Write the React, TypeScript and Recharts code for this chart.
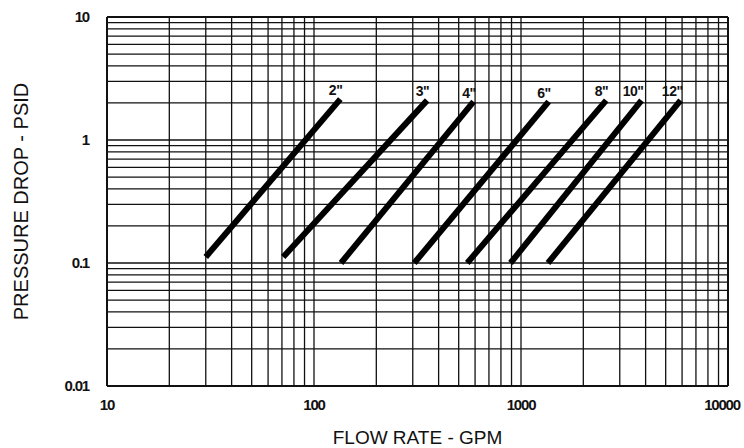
import React from 'react';
import { LineChart, Line, XAxis, YAxis, CartesianGrid, ReferenceLine } from 'recharts';

// pipe sizes, each line runs from (flowLow, dropLow) to (flowHigh, dropHigh)
const sizes = ['2"', '3"', '4"', '6"', '8"', '10"', '12"'];
const flowLow = [30, 71, 135, 305, 550, 890, 1350];
const flowHigh = [134, 352, 590, 1360, 2580, 3820, 5900];
const dropLow = [0.112, 0.112, 0.1, 0.1, 0.1, 0.1, 0.1];
const dropHigh = [2.15, 2.1, 2.05, 2.05, 2.1, 2.1, 2.1];

const xDecades = [10, 100, 1000, 10000];
const yDecades = [0.01, 0.1, 1, 10];
const mantissas = [1, 2, 3, 4, 5, 6, 7, 8, 9];

const xTicks = [...xDecades.slice(0, -1).flatMap((d) => mantissas.map((m) => m * d)), 10000];
const yTicks = [...yDecades.slice(0, -1).flatMap((d) => mantissas.map((m) => m * d)), 10];

const series = sizes.map((name, i) => ({
  name,
  data: [
    { flow: flowLow[i], drop: dropLow[i] },
    { flow: flowHigh[i], drop: dropHigh[i] },
  ],
}));

const font = '"Liberation Sans", Arial, sans-serif';
const tickStyle = { fontSize: 15, fontWeight: 700, fill: '#111', fontFamily: font, letterSpacing: -1.2 };

const XTick = (props: any) => {
  const { x, y, payload } = props;
  const v = payload.value;
  if (!xDecades.includes(v)) return null;
  // last label sits against the page edge
  const dx = v === 10000 ? -6 : 0;
  return (
    <text x={x + dx} y={y} dy={11} textAnchor="middle" {...tickStyle}>
      {String(v)}
    </text>
  );
};

const makeTag = (name: string) => (props: any) => {
  const { x, y, index } = props;
  if (index !== 1) return null;
  return (
    <text
      x={x + 2}
      y={y - 4}
      textAnchor="end"
      fontSize={14}
      fontWeight={700}
      fontFamily={font}
      fill="#111"
      letterSpacing={-0.5}
    >
      {name}
    </text>
  );
};

export default function App() {
  return (
    <div style={{ position: 'absolute', left: 0, top: 0, width: 744, height: 448, background: '#fff' }}>
      <LineChart width={744} height={448} margin={{ top: 17, right: 16, left: 0, bottom: 0 }}>
        <CartesianGrid stroke="#111" strokeWidth={1.3} />
        <XAxis
          dataKey="flow"
          type="number"
          scale="log"
          domain={[10, 10000]}
          ticks={xTicks}
          interval={0}
          allowDataOverflow
          height={62}
          tickLine={false}
          tickSize={0}
          tickMargin={13}
          axisLine={{ stroke: '#111', strokeWidth: 2 }}
          tick={<XTick />}
          label={{
            value: 'FLOW RATE - GPM',
            position: 'insideBottom',
            offset: 4,
            style: { fontSize: 19, fill: '#111', fontFamily: font, textAnchor: 'middle' },
          }}
        />
        <YAxis
          dataKey="drop"
          type="number"
          scale="log"
          domain={[0.01, 10]}
          ticks={yTicks}
          interval={0}
          allowDataOverflow
          width={107}
          tickLine={false}
          tickSize={0}
          tickMargin={18}
          axisLine={{ stroke: '#111', strokeWidth: 2 }}
          tick={tickStyle}
          tickFormatter={(v: number) => (yDecades.includes(v) ? String(v) : '')}
          label={{
            value: 'PRESSURE DROP - PSID',
            angle: -90,
            position: 'insideLeft',
            offset: 21,
            style: { fontSize: 20, fill: '#111', fontFamily: font, textAnchor: 'middle' },
          }}
        />
        <ReferenceLine y={10} stroke="#111" strokeWidth={2} />
        <ReferenceLine x={10000} stroke="#111" strokeWidth={2} />
        {series.map((s) => (
          <Line
            key={s.name}
            data={s.data}
            dataKey="drop"
            stroke="#000"
            strokeWidth={6}
            strokeLinecap="butt"
            dot={false}
            label={makeTag(s.name)}
            isAnimationActive={false}
          />
        ))}
      </LineChart>
    </div>
  );
}
